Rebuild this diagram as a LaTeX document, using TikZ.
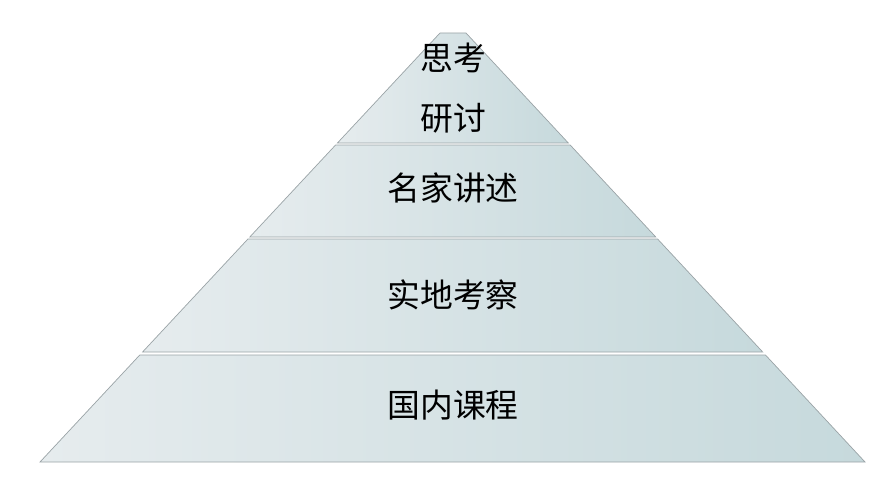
\documentclass[tikz,border=0pt]{standalone}
\usepackage{fontspec}
\newfontfamily\cjk{Noto Sans CJK SC}
\usetikzlibrary{calc}
\definecolor{layerLeft}{HTML}{E6ECEE}
\definecolor{layerRight}{HTML}{C6D9DC}
\definecolor{layerEdge}{HTML}{9AA3A6}
% one layer of the pyramid, between two heights (pixels, downward)
\newcommand{\DrawLayer}[2]{
    \pgfmathsetmacro{\la}{440-400/429*(#1-33)}
    \pgfmathsetmacro{\ra}{466+399/429*(#1-33)}
    \pgfmathsetmacro{\lb}{440-400/429*(#2-33)}
    \pgfmathsetmacro{\rb}{466+399/429*(#2-33)}
    \draw[layerFill] (\la,#1) -- (\ra,#1) -- (\rb,#2) -- (\lb,#2) -- cycle;
}
\tikzset{
    layerFill/.style={draw=layerEdge, line width=0.6pt, left color=layerLeft, right color=layerRight},
    layerText/.style={font=\cjk\fontsize{28}{30}\selectfont, text=black, inner sep=0pt}
}
\begin{document}
\begin{tikzpicture}[x=0.03cm, y=-0.03cm]
    \useasboundingbox (0,0) rectangle (877,481);
    % Layers
    \DrawLayer{33}{143}
    \DrawLayer{145}{237}
    \DrawLayer{239}{352}
    \DrawLayer{355}{462}
    % Labels
    \node[layerText] (think) at (453,58) {思考};
    \node[layerText] (discuss) at (453,118) {研讨};
    \node[layerText] (lecture) at (453,188) {名家讲述};
    \node[layerText] (field) at (453,295) {实地考察};
    \node[layerText] (course) at (453,405) {国内课程};
\end{tikzpicture}
\end{document}
